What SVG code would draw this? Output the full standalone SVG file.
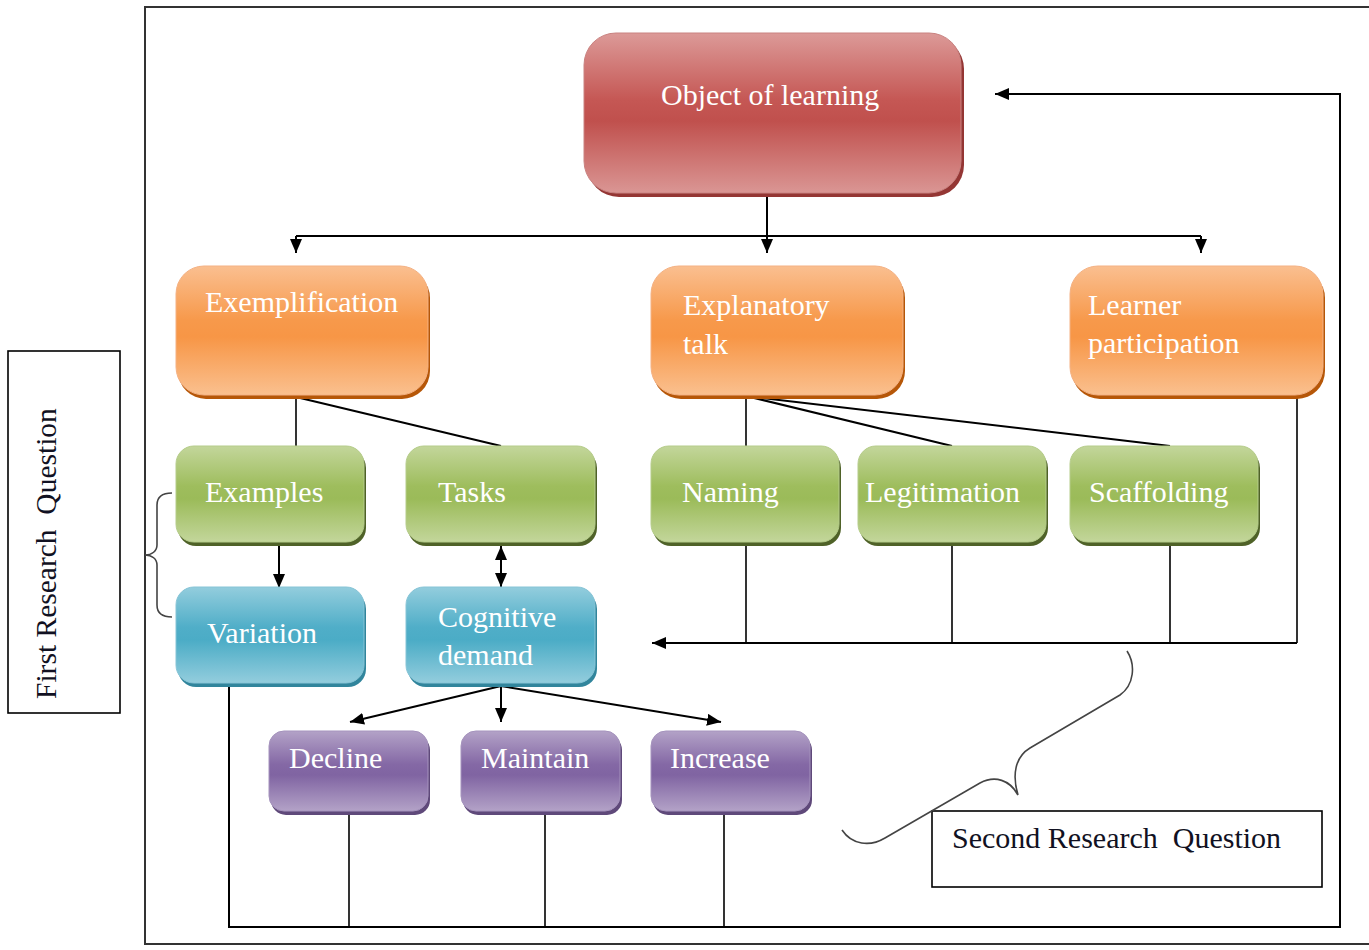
<svg xmlns="http://www.w3.org/2000/svg" width="1369" height="950" viewBox="0 0 1369 950">
  <style>
    .lbl { font-family: "Liberation Serif", "Times New Roman", serif; font-size: 30px; fill: #ffffff; }
    .q { font-family: "Liberation Serif", "Times New Roman", serif; font-size: 30px; fill: #111122; white-space: pre; }
    .ln { fill: none; stroke: #000; stroke-width: 2; }
    .thin { fill: none; stroke: #000; stroke-width: 1.6; }
    .brace { fill: none; stroke: #444; stroke-width: 1.6; }
    .frame { fill: none; stroke: #333; stroke-width: 2; }
    .box { fill: #fff; stroke: #000; stroke-width: 1.6; }
  </style>
  <defs>
    <linearGradient id="gRed" x1="0" y1="0" x2="0" y2="1">
      <stop offset="0" stop-color="#DC9A98"/>
      <stop offset="0.42" stop-color="#C55754"/>
      <stop offset="0.55" stop-color="#C0504D"/>
      <stop offset="1" stop-color="#DA9694"/>
    </linearGradient>
    <linearGradient id="gOrange" x1="0" y1="0" x2="0" y2="1">
      <stop offset="0" stop-color="#FABF90"/>
      <stop offset="0.42" stop-color="#F7994B"/>
      <stop offset="0.55" stop-color="#F79646"/>
      <stop offset="1" stop-color="#FAC08F"/>
    </linearGradient>
    <linearGradient id="gGreen" x1="0" y1="0" x2="0" y2="1">
      <stop offset="0" stop-color="#C3D69B"/>
      <stop offset="0.42" stop-color="#9EBD5D"/>
      <stop offset="0.55" stop-color="#9BBB59"/>
      <stop offset="1" stop-color="#C3D69B"/>
    </linearGradient>
    <linearGradient id="gBlue" x1="0" y1="0" x2="0" y2="1">
      <stop offset="0" stop-color="#93CDDD"/>
      <stop offset="0.42" stop-color="#50AEC8"/>
      <stop offset="0.55" stop-color="#4BACC6"/>
      <stop offset="1" stop-color="#93CDDD"/>
    </linearGradient>
    <linearGradient id="gPurple" x1="0" y1="0" x2="0" y2="1">
      <stop offset="0" stop-color="#B3A2C7"/>
      <stop offset="0.42" stop-color="#8468A5"/>
      <stop offset="0.55" stop-color="#8064A2"/>
      <stop offset="1" stop-color="#B3A2C7"/>
    </linearGradient>
    <marker id="arr" viewBox="0 0 14 12" refX="14" refY="6" markerWidth="14" markerHeight="12" markerUnits="userSpaceOnUse" orient="auto-start-reverse">
      <path d="M0,0 L14,6 L0,12 z" fill="#000"/>
    </marker>
  </defs>

  <!-- outer frame -->
  <path class="frame" d="M1369,7 H145 V944 H1369"/>

  <!-- connectors -->
  <g id="connectors">
    <path class="ln" d="M767,197 V253" marker-end="url(#arr)"/>
    <path class="ln" d="M296,236 H1201"/>
    <path class="ln" d="M296,236 V253" marker-end="url(#arr)"/>
    <path class="ln" d="M1201,236 V253" marker-end="url(#arr)"/>

    <path class="thin" d="M296,397 V446"/>
    <path class="ln" d="M296,397 L501,446"/>
    <path class="thin" d="M746,396 V446"/>
    <path class="ln" d="M746,396 L952,446"/>
    <path class="ln" d="M746,396 L1170,446"/>

    <path class="ln" d="M279,545 V588" marker-end="url(#arr)"/>
    <path class="ln" d="M501,546 V587" marker-start="url(#arr)" marker-end="url(#arr)"/>

    <path class="ln" d="M501,686 L350,722" marker-end="url(#arr)"/>
    <path class="ln" d="M501,686 V722" marker-end="url(#arr)"/>
    <path class="ln" d="M501,686 L721,722" marker-end="url(#arr)"/>

    <path class="thin" d="M746,546 V643"/>
    <path class="thin" d="M952,546 V643"/>
    <path class="thin" d="M1170,546 V643"/>
    <path class="thin" d="M1297,396 V643"/>
    <path class="ln" d="M1297,643 H652" marker-end="url(#arr)"/>

    <path class="ln" d="M229,686 V927 H1340 V94 H995" marker-end="url(#arr)"/>
    <path class="thin" d="M349,815 V927"/>
    <path class="thin" d="M545,815 V927"/>
    <path class="thin" d="M724,815 V927"/>
  </g>

  <!-- top node -->
  <g id="object-of-learning">
    <rect x="587" y="37" width="377" height="160" rx="32" fill="#943634"/>
    <rect x="584" y="33" width="377" height="160" rx="32" fill="url(#gRed)" stroke="#C98280" stroke-width="1"/>
    <text class="lbl" x="661" y="105">Object of learning</text>
  </g>

  <!-- second row -->
  <g id="exemplification">
    <rect x="178" y="270" width="252" height="129" rx="28" fill="#B65708"/>
    <rect x="176" y="266" width="252" height="129" rx="28" fill="url(#gOrange)" stroke="#F4B183" stroke-width="1"/>
    <text class="lbl" x="205" y="312">Exemplification</text>
  </g>
  <g id="explanatory-talk">
    <rect x="653" y="270" width="252" height="129" rx="28" fill="#B65708"/>
    <rect x="651" y="266" width="252" height="129" rx="28" fill="url(#gOrange)" stroke="#F4B183" stroke-width="1"/>
    <text class="lbl" x="683" y="315">Explanatory</text>
    <text class="lbl" x="683" y="354">talk</text>
  </g>
  <g id="learner-participation">
    <rect x="1072" y="270" width="253" height="129" rx="28" fill="#B65708"/>
    <rect x="1070" y="266" width="253" height="129" rx="28" fill="url(#gOrange)" stroke="#F4B183" stroke-width="1"/>
    <text class="lbl" x="1088" y="315">Learner</text>
    <text class="lbl" x="1088" y="353">participation</text>
  </g>

  <!-- third row -->
  <g id="examples">
    <rect x="178" y="450" width="188" height="96" rx="18" fill="#4F6228"/>
    <rect x="176" y="446" width="188" height="96" rx="18" fill="url(#gGreen)" stroke="#B5CC8A" stroke-width="1"/>
    <text class="lbl" x="205" y="502">Examples</text>
  </g>
  <g id="tasks">
    <rect x="408" y="450" width="189" height="96" rx="18" fill="#4F6228"/>
    <rect x="406" y="446" width="189" height="96" rx="18" fill="url(#gGreen)" stroke="#B5CC8A" stroke-width="1"/>
    <text class="lbl" x="438" y="502">Tasks</text>
  </g>
  <g id="naming">
    <rect x="653" y="450" width="188" height="96" rx="18" fill="#4F6228"/>
    <rect x="651" y="446" width="188" height="96" rx="18" fill="url(#gGreen)" stroke="#B5CC8A" stroke-width="1"/>
    <text class="lbl" x="682" y="502">Naming</text>
  </g>
  <g id="legitimation">
    <rect x="860" y="450" width="188" height="96" rx="18" fill="#4F6228"/>
    <rect x="858" y="446" width="188" height="96" rx="18" fill="url(#gGreen)" stroke="#B5CC8A" stroke-width="1"/>
    <text class="lbl" x="865" y="502">Legitimation</text>
  </g>
  <g id="scaffolding">
    <rect x="1072" y="450" width="188" height="96" rx="18" fill="#4F6228"/>
    <rect x="1070" y="446" width="188" height="96" rx="18" fill="url(#gGreen)" stroke="#B5CC8A" stroke-width="1"/>
    <text class="lbl" x="1089" y="502">Scaffolding</text>
  </g>

  <!-- fourth row -->
  <g id="variation">
    <rect x="178" y="591" width="188" height="96" rx="18" fill="#31859C"/>
    <rect x="176" y="587" width="188" height="96" rx="18" fill="url(#gBlue)" stroke="#86C4D6" stroke-width="1"/>
    <text class="lbl" x="207" y="643">Variation</text>
  </g>
  <g id="cognitive-demand">
    <rect x="408" y="591" width="189" height="96" rx="18" fill="#31859C"/>
    <rect x="406" y="587" width="189" height="96" rx="18" fill="url(#gBlue)" stroke="#86C4D6" stroke-width="1"/>
    <text class="lbl" x="438" y="627">Cognitive</text>
    <text class="lbl" x="438" y="665">demand</text>
  </g>

  <!-- fifth row -->
  <g id="decline">
    <rect x="271" y="735" width="159" height="80" rx="15" fill="#5F497A"/>
    <rect x="269" y="731" width="159" height="80" rx="15" fill="url(#gPurple)" stroke="#A593BD" stroke-width="1"/>
    <text class="lbl" x="289" y="768">Decline</text>
  </g>
  <g id="maintain">
    <rect x="463" y="735" width="159" height="80" rx="15" fill="#5F497A"/>
    <rect x="461" y="731" width="159" height="80" rx="15" fill="url(#gPurple)" stroke="#A593BD" stroke-width="1"/>
    <text class="lbl" x="481" y="768">Maintain</text>
  </g>
  <g id="increase">
    <rect x="653" y="735" width="159" height="80" rx="15" fill="#5F497A"/>
    <rect x="651" y="731" width="159" height="80" rx="15" fill="url(#gPurple)" stroke="#A593BD" stroke-width="1"/>
    <text class="lbl" x="670" y="768">Increase</text>
  </g>

  <!-- research question annotations -->
  <g id="first-research-question">
    <rect class="box" x="8" y="351" width="112" height="362"/>
    <text class="q" transform="translate(56,699) rotate(-90)" x="0" y="0" style="font-size:29.5px">First Research  Question</text>
    <path class="brace" d="M172,493 C162,493 157,497 157,505 L157,545 C157,551 152,555 145,555 C152,555 157,559 157,565 L157,605 C157,613 162,617 172,617"/>
  </g>
  <g id="second-research-question">
    <rect class="box" x="932" y="811" width="390" height="76"/>
    <text class="q" x="952" y="848">Second Research  Question</text>
    <path class="brace" d="M1127,651 C1136,665 1134,685 1120,695 L1030,748 C1015,757 1012,775 1018,795 C1010,780 995,775 980,783 L885,838 C870,847 852,845 842,830"/>
  </g>
</svg>
